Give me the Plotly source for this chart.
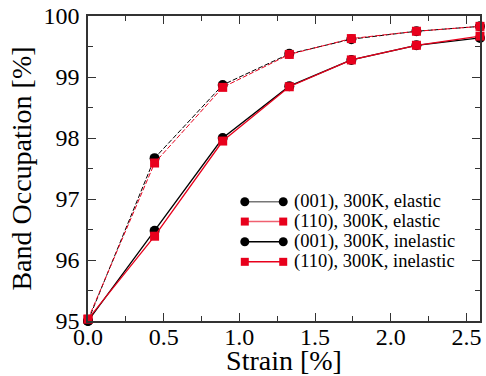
import plotly.graph_objects as go

strain = [0.0, 0.44, 0.89, 1.33, 1.74, 2.17, 2.59]
occ_001_elastic = [95.0, 97.67, 98.87, 99.38, 99.62, 99.75, 99.83]
occ_110_elastic = [95.03, 97.59, 98.83, 99.37, 99.63, 99.75, 99.83]
occ_001_inelastic = [95.0, 96.48, 98.0, 98.85, 99.28, 99.52, 99.64]
occ_110_inelastic = [95.03, 96.39, 97.95, 98.84, 99.28, 99.52, 99.67]

labels = ["(001), 300K, elastic", "(110), 300K, elastic",
          "(001), 300K, inelastic", "(110), 300K, inelastic"]

RED = "#e8001c"
FONT = "Liberation Serif, Times New Roman, serif"

series = [
    (occ_001_elastic, "black", "5px,2px", "circle", 10, 1.0),
    (occ_110_elastic, RED, "5px,2px", "square", 9, 1.0),
    (occ_001_inelastic, "black", "solid", "circle", 10, 1.3),
    (occ_110_inelastic, RED, "solid", "square", 9, 1.3),
]

fig = go.Figure()
for (ys, col, dash, sym, ms, lw), name in zip(series, labels):
    fig.add_trace(go.Scatter(
        x=strain, y=ys, mode="lines+markers", name=name, showlegend=False,
        line=dict(color=col, dash=dash, width=lw),
        marker=dict(symbol=sym, size=ms, color=col),
        cliponaxis=False,
    ))

# custom legend (marker at both ends of the sample line)
leg_x = [0.40, 0.498]
leg_rows = [0.391, 0.326, 0.260, 0.194]
leg_line_cols = ["#777777", "#f06070", "black", RED]
for i, ((ys, col, dash, sym, ms, lw), name) in enumerate(zip(series, labels)):
    fig.add_trace(go.Scatter(
        x=leg_x, y=[leg_rows[i]] * 2, xaxis="x2", yaxis="y2",
        mode="lines+markers", showlegend=False, hoverinfo="skip",
        line=dict(color=leg_line_cols[i], width=1.5),
        marker=dict(symbol=sym, size=ms - 1, color=col),
    ))
    fig.add_annotation(
        x=0.52, y=leg_rows[i], xref="x2", yref="y2", text=name,
        showarrow=False, xanchor="left", yanchor="middle",
        font=dict(family=FONT, size=18.5, color="black"),
    )

axis_common = dict(
    showline=True, linecolor="#333333", linewidth=1.5, mirror="allticks",
    ticks="inside", ticklen=8, tickwidth=1.2, tickcolor="#333333",
    showgrid=False, zeroline=False,
    tickfont=dict(family=FONT, size=24, color="black"),
)

fig.update_layout(
    width=486, height=376,
    margin=dict(l=88, r=6, t=16, b=55, autoexpand=False),
    plot_bgcolor="white", paper_bgcolor="white",
    showlegend=False,
    xaxis=dict(
        range=[0, 2.59], tickvals=[0, 0.5, 1.0, 1.5, 2.0, 2.5],
        ticktext=["0.0", "0.5", "1.0", "1.5", "2.0", "2.5"],
        minor=dict(tickvals=[0.25, 0.75, 1.25, 1.75, 2.25], ticks="inside",
                   ticklen=5, tickwidth=1.2, tickcolor="#333333"),
        title=dict(text="Strain [%]", font=dict(family=FONT, size=28, color="black"),
                   standoff=0),
        ticklabelstandoff=-7,
        automargin=False,
        **axis_common,
    ),
    yaxis=dict(
        range=[95, 100], tickvals=[95, 96, 97, 98, 99, 100],
        minor=dict(tickvals=[95.5, 96.5, 97.5, 98.5, 99.5], ticks="inside",
                   ticklen=5, tickwidth=1.2, tickcolor="#333333"),
        title=dict(text="Band Occupation [%]", font=dict(family=FONT, size=28, color="black"),
                   standoff=4),
        ticklabelstandoff=2,
        automargin=False,
        **axis_common,
    ),
    xaxis2=dict(domain=[0, 1], range=[0, 1], overlaying="x", visible=False, anchor="y2"),
    yaxis2=dict(domain=[0, 1], range=[0, 1], overlaying="y", visible=False, anchor="x2"),
)

fig.write_html("out.html", config={"displayModeBar": False},
               post_script="document.body.style.margin='0';document.body.style.overflow='hidden';")
